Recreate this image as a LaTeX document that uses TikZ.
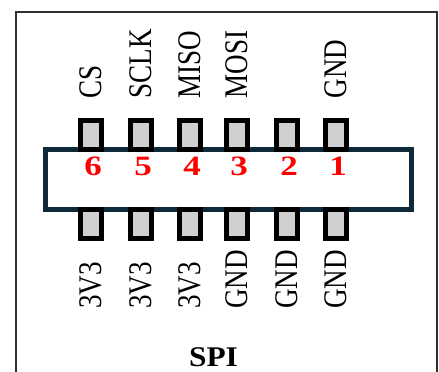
\documentclass[tikz,border=0pt]{standalone}
\usepackage{fontspec}
\setmainfont{Liberation Serif}
\definecolor{pingray}{HTML}{D0D0D0}
\definecolor{boxnavy}{HTML}{0E2A3A}
\definecolor{framegray}{HTML}{303030}
\definecolor{numred}{HTML}{FF0000}
\begin{document}
\begin{tikzpicture}[x=1pt,y=-1pt,
  pinbox/.style={draw=black, line width=5pt, fill=pingray, minimum width=21pt, minimum height=29pt, inner sep=0pt},
  pinlabel/.style={rotate=90, anchor=west, inner sep=0pt, text height=21.8pt, text depth=0pt, font=\fontsize{33}{33}\selectfont},
  pinnum/.style={inner sep=0pt, text=numred, font=\fontsize{28}{28}\selectfont\bfseries},
  connbox/.style={draw=boxnavy, line width=5pt, fill=white},
  frameline/.style={draw=framegray, line width=2pt}
]
\useasboundingbox (0,0) rectangle (439,372);
% outer frame (bottom edge lies beyond the picture)
\coordinate (fbl) at (15.8,380);
\coordinate (ftl) at (15.8,11.8);
\coordinate (ftr) at (436.5,11.8);
\coordinate (fbr) at (436.5,380);
\draw[frameline] (fbl) -- (ftl) -- (ftr) -- (fbr);
% connector body
\node[connbox, minimum width=366.5pt, minimum height=60pt, inner sep=0pt] (body) at (228.25,179.5) {};
% pins
\foreach \i/\x in {6/91,5/141,4/190,3/237,2/287,1/336}{
  \node[pinbox] (top\i) at (\x,135) {};
  \node[pinbox] (bot\i) at (\x,224) {};
  \node[pinnum] (num\i) at (\x+2,166.5) {\scalebox{1.25}[1]{\i}};
}
% top labels
\node[pinlabel] (lcs) at (91,98.5) {\scalebox{0.82}[1]{CS}};
\node[pinlabel] (lsclk) at (141,98.5) {\scalebox{0.82}[1]{SCLK}};
\node[pinlabel] (lmiso) at (190,98.5) {\scalebox{0.82}[1]{MISO}};
\node[pinlabel] (lmosi) at (237,98.5) {\scalebox{0.82}[1]{MOSI}};
\node[pinlabel] (lgndt) at (336,98.5) {\scalebox{0.82}[1]{GND}};
% bottom labels
\node[pinlabel] (lb6) at (91,309) {\scalebox{0.82}[1]{3V3}};
\node[pinlabel] (lb5) at (141,309) {\scalebox{0.82}[1]{3V3}};
\node[pinlabel] (lb4) at (190,309) {\scalebox{0.82}[1]{3V3}};
\node[pinlabel] (lb3) at (237,309) {\scalebox{0.82}[1]{GND}};
\node[pinlabel] (lb2) at (287,309) {\scalebox{0.82}[1]{GND}};
\node[pinlabel] (lb1) at (336,309) {\scalebox{0.82}[1]{GND}};
% title
\node[inner sep=0pt, font=\fontsize{28.5}{28.5}\selectfont\bfseries] (title) at (213.5,357.5) {\scalebox{1.1}[1]{SPI}};
\end{tikzpicture}
\end{document}
